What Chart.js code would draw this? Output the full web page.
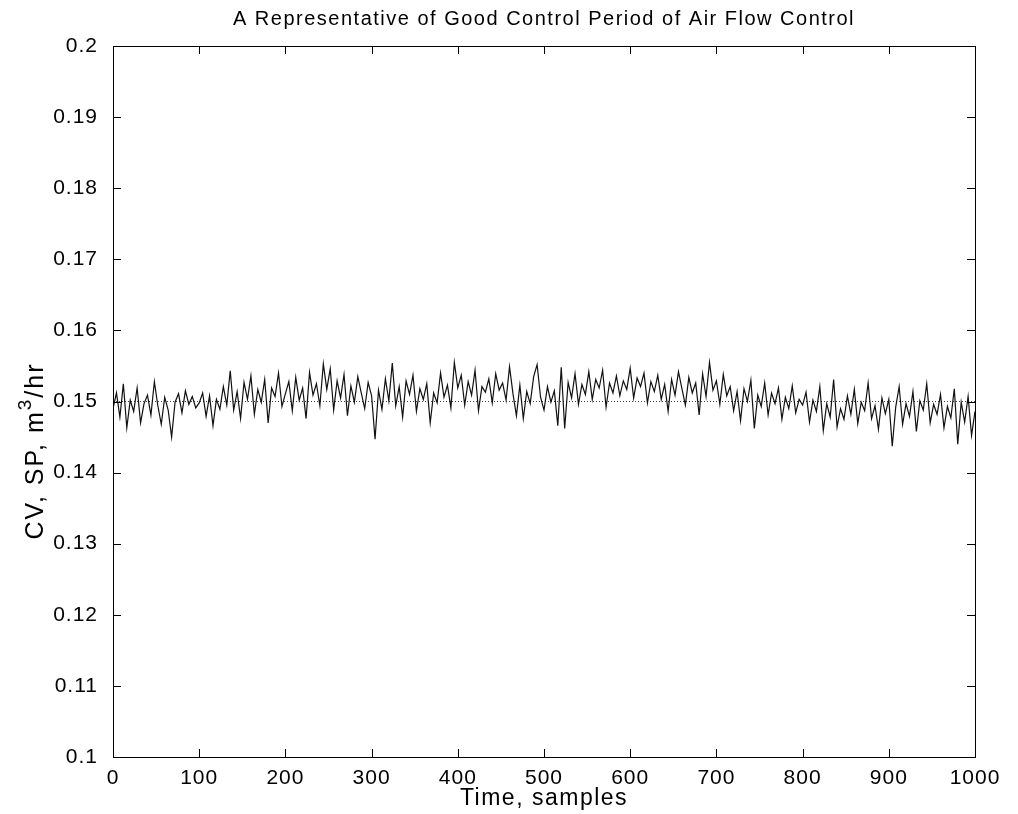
<!DOCTYPE html>
<html>
<head>
<meta charset="utf-8">
<script src="https://cdn.jsdelivr.net/npm/chart.js@4"></script>
<style>
  html,body{margin:0;padding:0;background:#fff;}
  #wrap{width:1018px;height:814px;position:relative;}
</style>
</head>
<body>
<div id="wrap"><canvas id="c" width="1018" height="814"></canvas></div>
<script>
// 제목 / 축 이름
const chartTitle='A Representative of Good Control Period of Air Flow Control';
const xTitle='Time, samples';
const yTitleParts=['CV, SP, m','3','/hr'];   // 가운데는 위첨자

// 눈금
const xTicks=[0,100,200,300,400,500,600,700,800,900,1000];
const yTicks=[0.1,0.11,0.12,0.13,0.14,0.15,0.16,0.17,0.18,0.19,0.2];

// CV: 4샘플 간격으로 읽은 값 (0..1000)
const sampleStep=4;
const cvValues=[
  0.1490,0.1512,0.1478,0.1525,0.1463,0.1502,0.1486,0.1519,0.1470,0.1497,0.1509,0.1481,0.1528,0.1494,0.1468,0.1506,0.1488,0.1450,0.1499,0.1511,0.1484,0.1515,0.1496,0.1507,0.1491,
  0.1498,0.1512,0.1479,0.1508,0.1466,0.1503,0.1489,0.1521,0.1495,0.1543,0.1488,0.1514,0.1476,0.1527,0.1503,0.1536,0.1482,0.1517,0.1499,0.1531,0.1470,0.1519,0.1507,0.1540,0.1493,
  0.1511,0.1528,0.1487,0.1534,0.1502,0.1519,0.1476,0.1541,0.1509,0.1525,0.1494,0.1553,0.1517,0.1546,0.1488,0.1529,0.1505,0.1538,0.1480,0.1522,0.1499,0.1535,0.1512,0.1490,0.1527,
  0.1508,0.1447,0.1516,0.1489,0.1532,0.1501,0.1554,0.1494,0.1521,0.1478,0.1529,0.1510,0.1537,0.1486,0.1518,0.1503,0.1525,0.1470,0.1512,0.1498,0.1540,0.1506,0.1523,0.1491,0.1555,
  0.1519,0.1537,0.1495,0.1528,0.1509,0.1544,0.1487,0.1521,0.1513,0.1532,0.1498,0.1539,0.1516,0.1526,0.1502,0.1549,0.1511,0.1480,0.1523,0.1476,0.1514,0.1497,0.1535,0.1552,0.1506,
  0.1488,0.1521,0.1499,0.1515,0.1466,0.1548,0.1462,0.1527,0.1505,0.1539,0.1496,0.1524,0.1510,0.1542,0.1503,0.1531,0.1519,0.1544,0.1492,0.1526,0.1512,0.1536,0.1508,0.1529,0.1517,
  0.1547,0.1505,0.1533,0.1521,0.1540,0.1498,0.1528,0.1514,0.1537,0.1503,0.1524,0.1486,0.1531,0.1509,0.1542,0.1518,0.1495,0.1534,0.1512,0.1526,0.1481,0.1539,0.1507,0.1555,0.1516,
  0.1529,0.1496,0.1538,0.1508,0.1521,0.1487,0.1514,0.1473,0.1518,0.1500,0.1530,0.1462,0.1509,0.1493,0.1526,0.1481,0.1512,0.1497,0.1519,0.1475,0.1506,0.1490,0.1522,0.1484,0.1503,
  0.1495,0.1513,0.1471,0.1502,0.1486,0.1521,0.1459,0.1497,0.1478,0.1531,0.1464,0.1490,0.1475,0.1508,0.1482,0.1517,0.1469,0.1499,0.1487,0.1526,0.1476,0.1494,0.1461,0.1505,0.1483,
  0.1503,0.1437,0.1492,0.1521,0.1468,0.1497,0.1479,0.1514,0.1458,0.1501,0.1488,0.1525,0.1470,0.1496,0.1482,0.1510,0.1463,0.1493,0.1477,0.1518,0.1440,0.1499,0.1471,0.1507,0.1452,
  0.1486
];

// SP: 설정값
const spX=[0,1000];
const spY=[0.15,0.15];

const FONT='"Liberation Sans", Arial, Helvetica, sans-serif';

// 글자 간격 (원본 폰트가 조금 넓음)
const spacingPlugin={
  id:'spacing',
  beforeLayout(chart){ chart.ctx.letterSpacing='1px'; },
  beforeDraw(chart){ chart.ctx.letterSpacing='1px'; }
};

// MATLAB 스타일 테두리 + 안쪽 눈금, 제목, 축 이름
const boxPlugin={
  id:'boxPlugin',
  afterDraw(chart){
    const {ctx,chartArea:a,scales:{x,y}}=chart;
    const tl=8;
    ctx.save();
    ctx.strokeStyle='#000'; ctx.lineWidth=1;
    ctx.strokeRect(a.left+0.5,a.top+0.5,a.right-a.left,a.bottom-a.top);
    ctx.beginPath();
    xTicks.forEach(v=>{
      const px=Math.round(x.getPixelForValue(v))+0.5;
      ctx.moveTo(px,a.bottom); ctx.lineTo(px,a.bottom-tl);
      ctx.moveTo(px,a.top); ctx.lineTo(px,a.top+tl);
    });
    yTicks.forEach(v=>{
      const py=Math.round(y.getPixelForValue(v))+0.5;
      ctx.moveTo(a.left,py); ctx.lineTo(a.left+tl,py);
      ctx.moveTo(a.right,py); ctx.lineTo(a.right-tl,py);
    });
    ctx.stroke();

    ctx.fillStyle='#000';
    ctx.letterSpacing='1.5px';
    ctx.textBaseline='middle';
    // 제목
    ctx.font='20px '+FONT; ctx.textAlign='center';
    ctx.fillText(chartTitle,(a.left+a.right)/2,19);
    // x 축 이름
    ctx.font='23px '+FONT;
    ctx.fillText(xTitle,(a.left+a.right)/2,799);
    // y 축 이름 (위첨자 포함)
    ctx.letterSpacing='2px';
    ctx.translate(36,451); ctx.rotate(-Math.PI/2);
    const big='25px '+FONT, small='19px '+FONT;
    ctx.font=big; const w0=ctx.measureText(yTitleParts[0]).width;
    ctx.font=small; const w1=ctx.measureText(yTitleParts[1]).width;
    ctx.font=big; const w2=ctx.measureText(yTitleParts[2]).width;
    let cx=-(w0+w1+w2)/2;
    ctx.textAlign='left';
    ctx.font=big; ctx.fillText(yTitleParts[0],cx,0); cx+=w0;
    ctx.font=small; ctx.fillText(yTitleParts[1],cx,-10); cx+=w1;
    ctx.font=big; ctx.fillText(yTitleParts[2],cx,0);
    ctx.restore();
  }
};

new Chart(document.getElementById('c'),{
  type:'line',
  data:{datasets:[
    {label:'CV',
     data:cvValues.map((v,i)=>({x:i*sampleStep,y:v})),
     borderColor:'#111',borderWidth:1.2,pointRadius:0,tension:0},
    {label:'SP',
     data:spX.map((v,i)=>({x:v,y:spY[i]})),
     borderColor:'#444',borderWidth:1,borderDash:[1,2],pointRadius:0}
  ]},
  options:{
    responsive:false,animation:false,
    layout:{padding:{top:46,right:43,left:0,bottom:0}},
    plugins:{legend:{display:false},tooltip:{enabled:false}},
    scales:{
      x:{type:'linear',min:0,max:1000,
        afterBuildTicks:s=>{s.ticks=xTicks.map(v=>({value:v}));},
        afterFit:s=>{s.height=57;},
        grid:{display:false},border:{display:false},
        ticks:{color:'#000',font:{family:FONT,size:21},padding:1,maxRotation:0,
          callback:v=>String(v)}},
      y:{type:'linear',min:0.1,max:0.2,
        afterBuildTicks:s=>{s.ticks=yTicks.map(v=>({value:v}));},
        afterFit:s=>{s.width=113;},
        grid:{display:false},border:{display:false},
        ticks:{color:'#000',font:{family:FONT,size:21},padding:7,
          callback:v=>String(+v.toFixed(2))}}
    }
  },
  plugins:[spacingPlugin,boxPlugin]
});
</script>
</body>
</html>
